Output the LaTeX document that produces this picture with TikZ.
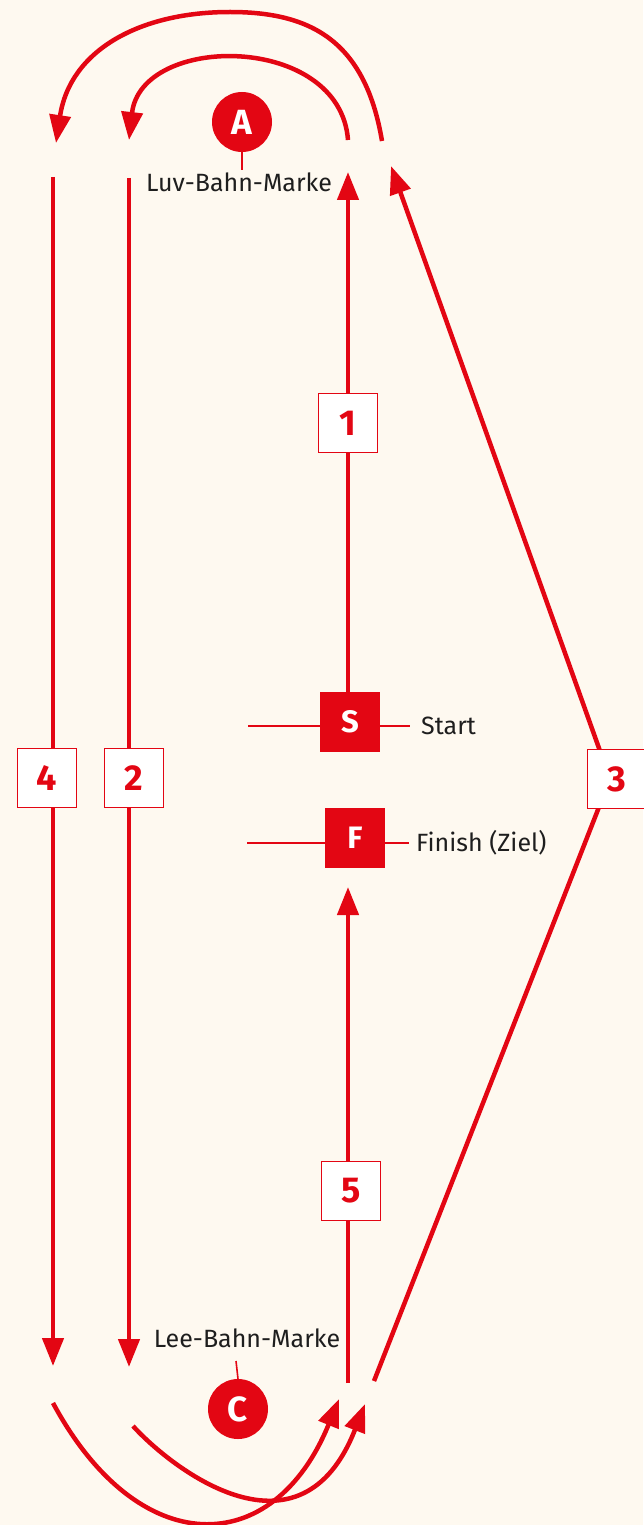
\documentclass[tikz,border=0pt]{standalone}
\usepackage{fontspec}
\setmainfont{Fira Sans}
\usetikzlibrary{arrows.meta}
\definecolor{bg}{HTML}{FEF9F0}
\definecolor{rd}{HTML}{E30613}
\definecolor{tx}{HTML}{1E1E1E}
\begin{document}
\begin{tikzpicture}[x=1pt,y=-1pt,
  route/.style={draw=rd, line width=4.5pt},
  arr/.style={route, -{Triangle[width=21pt,length=28pt]}},
  legbox/.style={draw=rd, line width=1.8pt, fill=white, minimum size=59pt, inner sep=0pt, text=rd, font=\fontsize{36}{36}\selectfont\bfseries},
  markbox/.style={fill=rd, minimum size=60pt, inner sep=0pt, text=white, font=\fontsize{31}{31}\selectfont\bfseries},
  buoy/.style={circle, fill=rd, minimum size=60pt, inner sep=0pt, text=white, font=\fontsize{35}{35}\selectfont\bfseries},
  lbl/.style={text=tx, font=\fontsize{25}{25}\selectfont, inner sep=0pt},
  tick/.style={draw=rd, line width=1.6pt}]
\fill[bg] (0,0) rectangle (643,1525);
\useasboundingbox (0,0) rectangle (643,1525);

% marks
\node[buoy] (A) at (242,122) {A};
\node[lbl, anchor=base] (luv) at (239,192) {Luv-Bahn-Marke};
\coordinate (Atick) at (242,170);
\draw[tick] (A.south) -- (Atick);

\node[buoy] (C) at (238,1409) {C};
\node[lbl, anchor=base] (lee) at (247,1347) {Lee-Bahn-Marke};
\coordinate (Ctick) at (236,1361);
\draw[tick] (C.north) -- (Ctick);

\node[markbox] (S) at (350,722) {S};
\node[markbox] (F) at (355,838) {F};
\coordinate (sL) at (248,726);
\coordinate (sR) at (410,726);
\coordinate (fL) at (247,843);
\coordinate (fR) at (409,843);
\draw[tick] (sL) -- (sL -| S.west);
\draw[tick] (sR -| S.east) -- (sR);
\draw[tick] (fL) -- (fL -| F.west);
\draw[tick] (fR -| F.east) -- (fR);
\node[lbl, anchor=base west] (start) at (421,734) {Start};
\node[lbl, anchor=base west] (finish) at (416,851) {Finish (Ziel)};

% legs
\coordinate (l4s) at (53,177);
\coordinate (l4e) at (53,1366);
\coordinate (l2s) at (129,178);
\coordinate (l2e) at (129,1367);
\coordinate (l1e) at (348,172);
\coordinate (l5s) at (348,1383);
\coordinate (l5e) at (348,887);
\coordinate (l3s) at (374,1381);
\coordinate (apex) at (610,779);
\coordinate (l3e) at (391,166);

\draw[arr] (l4s) -- (l4e);
\draw[arr] (l2s) -- (l2e);
\draw[arr] (l1e |- S.north) -- (l1e);
\draw[arr] (l5s) -- (l5e);
\draw[arr] (l3s) -- (apex) -- (l3e);

% roundings at A
\coordinate (ia) at (348,140);
\coordinate (ib) at (129,140);
\coordinate (oa) at (382,141);
\coordinate (ob) at (56,143);
\draw[arr] (ia) .. controls (340,33) and (141,33) .. (ib);
\draw[arr] (oa) .. controls (365,40) and (310,12) .. (230,12) .. controls (140,12) and (70,50) .. (ob);

% roundings at C
\coordinate (ca) at (53,1403);
\coordinate (cb) at (339,1399);
\coordinate (da) at (133,1426);
\coordinate (db) at (365,1404);
\draw[arr] (ca) .. controls (138,1561) and (273,1561) .. (cb);
\draw[arr] (da) .. controls (173,1470) and (301,1568) .. (db);

% leg numbers
\node[legbox] (b1) at (348,423) {1};
\node[legbox] (b2) at (134,778) {2};
\node[legbox] (b4) at (47,778) {4};
\node[legbox] (b3) at (617,779) {3};
\node[legbox] (b5) at (351,1191) {5};
\end{tikzpicture}
\end{document}
